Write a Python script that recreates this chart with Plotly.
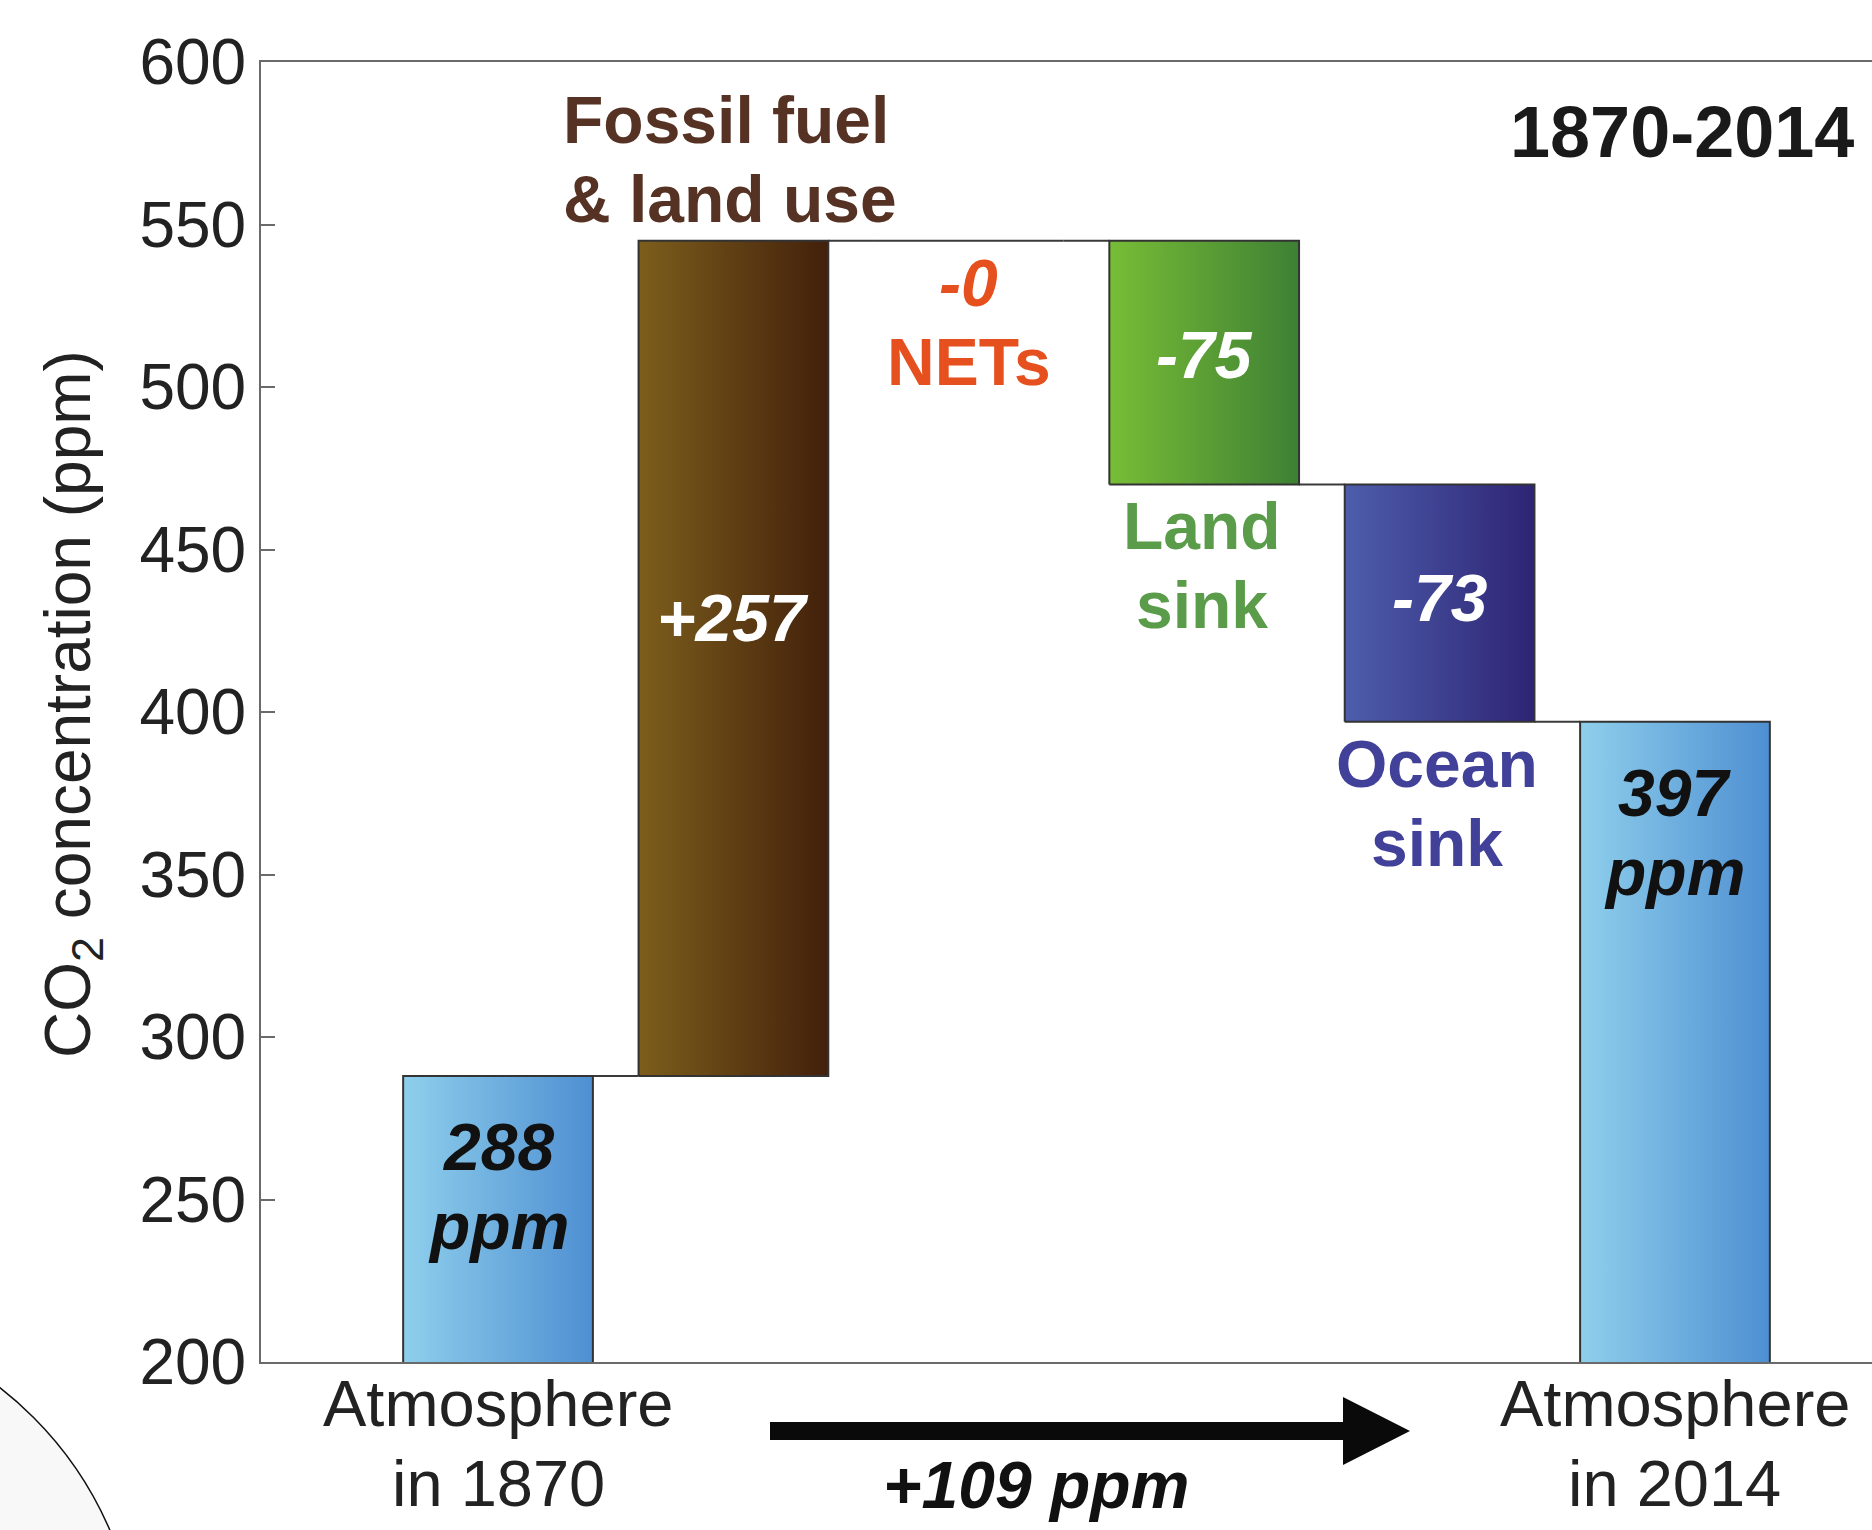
import plotly.graph_objects as go

# ---------------- data ----------------
categories = ["Atmosphere in 1870", "Fossil fuel & land use", "NETs",
              "Land sink", "Ocean sink", "Atmosphere in 2014"]
measures = ["absolute", "relative", "relative", "relative", "relative", "total"]
values = [288, 257, 0, -75, -73, 397]
bar_value_labels = ["288<br>ppm", "+257", "-0", "-75", "-73", "397<br>ppm"]
x_tick_labels = ["Atmosphere<br>in 1870", "Atmosphere<br>in 2014"]
x_tick_positions = [0, 5]
y_ticks = [200, 250, 300, 350, 400, 450, 500, 550, 600]
net_change_label = "+109 ppm"
period_label = "1870-2014"
y_title = "CO<sub>2</sub> concentration (ppm)"

# ---------------- style ----------------
W, H = 1872, 1530
M_L, M_R, M_T, M_B = 261, 0, 62, 168
PLOT_W = W - M_L - M_R
PLOT_H = H - M_T - M_B
FONT = "Liberation Sans, Arial, Helvetica, sans-serif"
BAR_W = 0.806
X_RANGE = [-1.007, 5.837]
Y_RANGE = [200, 600]
PITCH = 79  # px between text lines

gradients = [("#8fcfec", "#4e8fd2"), ("#7d5e1c", "#42200b"), (None, None),
             ("#78bd36", "#3e8034"), ("#4d5eac", "#2e2474"), ("#8fcfec", "#4e8fd2")]
value_label_style = [
    dict(y=254, color="#111111"),
    dict(y=429, color="#ffffff"),
    None,
    dict(y=510, color="#ffffff"),
    dict(y=435, color="#ffffff"),
    dict(y=363, color="#111111"),
]
name_labels = [
    dict(i=1, lines=["Fossil fuel", "& land use"], y=570, color="#553223", x=0.268, xanchor="left", italic=[False, False]),
    dict(i=2, lines=["-0", "NETs"], y=520, color="#e5501e", x=2.0, xanchor="center", italic=[True, False]),
    dict(i=3, lines=["Land", "sink"], y=445, color="#5a9c4a", x=2.99, xanchor="center", italic=[False, False]),
    dict(i=4, lines=["Ocean", "sink"], y=372, color="#41419a", x=3.99, xanchor="center", italic=[False, False]),
]


def px_x(px):
    return (px - M_L) / PLOT_W


def px_y(py):
    return (M_T + PLOT_H - py) / PLOT_H


def line_annotations(lines, x, y, xref, yref, size, color, bold=True, italics=None,
                     xanchor="center", pitch=PITCH):
    out = []
    n = len(lines)
    for k, ln in enumerate(lines):
        it = italics[k] if italics is not None else False
        t = ln
        if it:
            t = "<i>" + t + "</i>"
        if bold:
            t = "<b>" + t + "</b>"
        out.append(dict(x=x, y=y, xref=xref, yref=yref, showarrow=False, text=t,
                        yshift=(n - 1) / 2 * pitch - k * pitch,
                        font=dict(family=FONT, size=size, color=color),
                        xanchor=xanchor, yanchor="middle"))
    return out


# ---------------- compute waterfall extents ----------------
bottoms, tops, levels_after = [], [], []
level = 0
for m, v in zip(measures, values):
    if m in ("absolute", "total"):
        b, t = 0, v
        level = v
    else:
        b, t = level, level + v
        level += v
    bottoms.append(b)
    tops.append(t)
    levels_after.append(level)

fig = go.Figure()

# connectors
cx, cy = [], []
for i in range(len(values) - 1):
    cx += [i + BAR_W / 2, i + 1 - BAR_W / 2, None]
    cy += [levels_after[i], levels_after[i], None]
fig.add_trace(go.Scatter(x=cx, y=cy, mode="lines", line=dict(color="#3a3a3a", width=2),
                         hoverinfo="skip", showlegend=False))

# bars with horizontal gradient
for i, (b, t) in enumerate(zip(bottoms, tops)):
    x0, x1 = i - BAR_W / 2, i + BAR_W / 2
    cl, cr = gradients[i]
    if b == t or cl is None:
        fig.add_trace(go.Scatter(x=[x0, x1], y=[b, t], mode="lines",
                                 line=dict(color="#3a3a3a", width=2),
                                 hoverinfo="skip", showlegend=False))
        continue
    lo, hi = min(b, t), max(b, t)
    fig.add_trace(go.Scatter(
        x=[x0, x1, x1, x0, x0], y=[lo, lo, hi, hi, lo], mode="lines", fill="toself",
        fillgradient=dict(type="horizontal", colorscale=[[0, cl], [1, cr]]),
        line=dict(color="#333333", width=2), hoverinfo="skip", showlegend=False,
        name=categories[i]))

annotations = []
for i, st in enumerate(value_label_style):
    if st is None:
        continue
    lines = bar_value_labels[i].split("<br>")
    annotations += line_annotations(lines, i, st["y"], "x", "y", 66, st["color"],
                                    bold=True, italics=[True] * len(lines))

for nl in name_labels:
    annotations += line_annotations(nl["lines"], nl["x"], nl["y"], "x", "y", 66, nl["color"],
                                    bold=True, italics=nl["italic"], xanchor=nl["xanchor"])

# x category labels (two lines each)
for xv, lab in zip(x_tick_positions, x_tick_labels):
    annotations += line_annotations(lab.split("<br>"), xv, px_y(1443), "x", "paper", 65,
                                    "#222222", bold=False, pitch=80)

annotations.append(dict(
    x=5.03, y=578.5, xref="x", yref="y", showarrow=False,
    text="<b>" + period_label + "</b>",
    font=dict(family=FONT, size=72, color="#1a1a1a"),
    xanchor="center", yanchor="middle"))

annotations.append(dict(
    x=px_x(1036), y=px_y(1485), xref="paper", yref="paper", showarrow=False,
    text="<b><i>" + net_change_label + "</i></b>",
    font=dict(family=FONT, size=66, color="#111111"),
    xanchor="center", yanchor="middle"))

annotations.append(dict(
    x=px_x(72), y=px_y(704), xref="paper", yref="paper", showarrow=False,
    text=y_title, textangle=-90,
    font=dict(family=FONT, size=64, color="#222222"),
    xanchor="center", yanchor="middle"))

# arrow shapes
ay = 1431
shapes = [
    dict(type="rect", xref="paper", yref="paper",
         x0=px_x(770), x1=px_x(1350), y0=px_y(ay - 9), y1=px_y(ay + 9),
         fillcolor="#0a0a0a", line=dict(width=0)),
    dict(type="path", xref="paper", yref="paper",
         path=f"M {px_x(1343)},{px_y(ay - 34)} L {px_x(1410)},{px_y(ay)} L {px_x(1343)},{px_y(ay + 34)} Z",
         fillcolor="#0a0a0a", line=dict(width=0)),
    # decorative circle arc in the lower-left corner
    dict(type="circle", xref="paper", yref="paper", layer="below",
         x0=px_x(-221 - 360), x1=px_x(-221 + 360),
         y0=px_y(1672 + 360), y1=px_y(1672 - 360),
         fillcolor="#f8f8f8", line=dict(color="#111111", width=1.5)),
]

fig.update_layout(
    width=W, height=H,
    margin=dict(l=M_L, r=M_R, t=M_T, b=M_B),
    paper_bgcolor="white", plot_bgcolor="white",
    showlegend=False,
    annotations=annotations, shapes=shapes,
    font=dict(family=FONT),
)
fig.update_xaxes(range=X_RANGE, tickvals=x_tick_positions, showticklabels=False,
                 showline=True, linecolor="#6a6a6a", linewidth=2, mirror=True,
                 ticks="", showgrid=False, zeroline=False)
fig.update_yaxes(range=Y_RANGE, tickvals=y_ticks, ticks="inside", ticklen=14,
                 tickwidth=2, tickcolor="#6a6a6a", showline=True, linecolor="#6a6a6a",
                 linewidth=2, showgrid=False, zeroline=False,
                 tickfont=dict(family=FONT, size=64, color="#222222"))

fig.write_html("out.html", config={"displayModeBar": False},
               post_script="document.body.style.margin='0';document.body.style.overflow='hidden';")
